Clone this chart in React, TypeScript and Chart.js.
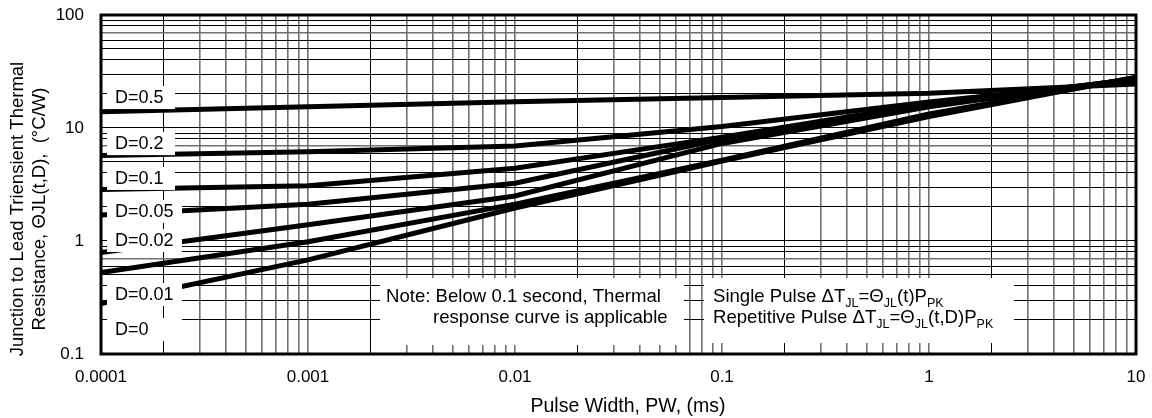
import React, { useEffect, useRef } from 'react';
import { Chart, registerables } from 'chart.js';

Chart.register(...registerables);

// ---- data ----
const pulseWidths = [0.0001, 0.001, 0.01, 0.1, 1, 10];
const dutyLabels = ['D=0.5', 'D=0.2', 'D=0.1', 'D=0.05', 'D=0.02', 'D=0.01', 'D=0'];
const d05 = [13.9, 15.4, 17.1, 18.6, 20.3, 24.5];
const d02 = [5.7, 6.17, 6.93, 10.3, 17.0, 26.5];
const d01 = [2.86, 3.08, 4.4, 8.3, 16.4, 27.0];
const d005 = [1.7, 2.11, 3.24, 8.0, 16.0, 27.2];
const d002 = [0.79, 1.39, 2.5, 7.3, 15.4, 27.4];
const d001 = [0.525, 0.986, 2.12, 5.2, 13.3, 27.8];
const d0 = [0.28, 0.68, 1.96, 5.1, 12.6, 28.2];
const series = [d05, d02, d01, d005, d002, d001, d0];
// label anchor values (thermal resistance at which each D label sits)
const labelAnchors = [18.4, 7.2, 3.54, 1.81, 1.0, 0.333, 0.163];

const xTickLabels = ['0.0001', '0.001', '0.01', '0.1', '1', '10'];
const yTickLabels = ['0.1', '1', '10', '100'];
const xTitle = 'Pulse Width, PW, (ms)';
const yTitleLines = ['Junction to Lead Triensient Thermal', 'Resistance, \u0398JL(t,D),  (\u00B0C/W)'];
const noteLines = ['Note: Below 0.1 second, Thermal', 'response curve is applicable'];
const formula1 = [
  { t: 'Single Pulse \u0394T' }, { t: 'JL', sub: true }, { t: '=\u0398' }, { t: 'JL', sub: true },
  { t: '(t)P' }, { t: 'PK', sub: true },
];
const formula2 = [
  { t: 'Repetitive Pulse \u0394T' }, { t: 'JL', sub: true }, { t: '=\u0398' }, { t: 'JL', sub: true },
  { t: '(t,D)P' }, { t: 'PK', sub: true },
];

const FONT = '"Liberation Sans", Arial, sans-serif';

function logTicks(minExp: number, maxExp: number) {
  const out: { value: number }[] = [];
  for (let e = minExp; e < maxExp; e++) {
    for (let s = 1; s <= 9; s++) out.push({ value: Number((s * Math.pow(10, e)).toPrecision(3)) });
  }
  out.push({ value: Math.pow(10, maxExp) });
  return out;
}
function sig(v: number) {
  return Math.round(v / Math.pow(10, Math.floor(Math.log10(v) + 1e-9)));
}
function isDecade(v: number) {
  const l = Math.log10(v);
  return Math.abs(l - Math.round(l)) < 1e-6;
}
function zeroPad(s: any) {
  s.paddingTop = 0;
  s.paddingBottom = 0;
  s.paddingLeft = 0;
  s.paddingRight = 0;
}

function drawRich(ctx: CanvasRenderingContext2D, parts: { t: string; sub?: boolean }[], x: number, y: number) {
  let cx = x;
  for (const p of parts) {
    ctx.font = p.sub ? `12.5px ${FONT}` : `18.6px ${FONT}`;
    ctx.fillText(p.t, cx, p.sub ? y + 5 : y);
    cx += ctx.measureText(p.t).width;
  }
}

const overlay = {
  id: 'overlay',
  afterDatasetsDraw(chart: any) {
    const { ctx, chartArea: a, scales } = chart;
    ctx.save();
    ctx.textBaseline = 'middle';
    ctx.textAlign = 'left';
    // D labels
    dutyLabels.forEach((lab, i) => {
      const y = scales.y.getPixelForValue(labelAnchors[i]);
      const right = i < 3 ? a.left + 74 : a.left + 81;
      ctx.fillStyle = '#fff';
      ctx.fillRect(a.left + 6, y - 12, right - (a.left + 6), 23);
      ctx.fillStyle = '#000';
      ctx.font = `18px ${FONT}`;
      ctx.fillText(lab, a.left + 14, y);
    });
    // note boxes
    ctx.fillStyle = '#fff';
    ctx.fillRect(a.left + 279, a.bottom - 76, 304, 67);
    ctx.fillRect(a.left + 603, a.bottom - 76, 310, 65);
    ctx.fillStyle = '#000';
    ctx.font = `18.6px ${FONT}`;
    ctx.fillText(noteLines[0], a.left + 285, a.bottom - 57);
    ctx.fillText(noteLines[1], a.left + 332, a.bottom - 36);
    ctx.textBaseline = 'alphabetic';
    drawRich(ctx, formula1, a.left + 612, a.bottom - 52);
    drawRich(ctx, formula2, a.left + 612, a.bottom - 31);
    // frame
    ctx.strokeStyle = '#000';
    ctx.lineWidth = 3;
    ctx.strokeRect(a.left, a.top, a.right - a.left, a.bottom - a.top);
    // titles
    ctx.font = `19.5px ${FONT}`;
    ctx.textAlign = 'center';
    ctx.textBaseline = 'middle';
    ctx.fillText(xTitle, 628, 407);
    ctx.font = `18.5px ${FONT}`;
    ctx.textBaseline = 'alphabetic';
    yTitleLines.forEach((line, i) => {
      ctx.save();
      ctx.translate(23 + i * 22, 209);
      ctx.rotate(-Math.PI / 2);
      ctx.fillText(line, 0, 0);
      ctx.restore();
    });
    ctx.restore();
  },
};

export default function App() {
  const ref = useRef<HTMLCanvasElement>(null);
  useEffect(() => {
    const canvas = ref.current!;
    const chart = new Chart(canvas, {
      type: 'line',
      data: {
        datasets: series.map((vals, i) => ({
          label: dutyLabels[i],
          data: pulseWidths.map((x, j) => ({ x, y: vals[j] })),
          borderColor: '#000',
          backgroundColor: '#000',
          borderWidth: 5,
          pointRadius: 0,
          tension: 0,
          fill: false,
        })),
      },
      options: {
        animation: false,
        responsive: false,
        layout: { padding: { top: 15, right: 16, left: 0, bottom: 0 } },
        plugins: { legend: { display: false }, tooltip: { enabled: false } },
        scales: {
          x: {
            type: 'logarithmic',
            min: 0.0001,
            max: 10,
            afterBuildTicks: (s: any) => { s.ticks = logTicks(-4, 1); },
            afterFit: (s: any) => { s.height = 64; zeroPad(s); },
            border: { display: false },
            grid: {
              drawTicks: false,
              color: (c: any) => (c.tick && sig(c.tick.value) === 2 ? '#000' : '#707070'),
              lineWidth: (c: any) => (c.tick && sig(c.tick.value) === 2 ? 1 : 1.6),
            },
            ticks: {
              autoSkip: false,
              maxRotation: 0,
              padding: 13,
              color: '#000',
              font: { family: FONT, size: 17 },
              callback: (v: any) => {
                const n = Number(v);
                if (!isDecade(n)) return '';
                return xTickLabels[Math.round(Math.log10(n)) + 4];
              },
            },
          },
          y: {
            type: 'logarithmic',
            min: 0.1,
            max: 100,
            afterBuildTicks: (s: any) => { s.ticks = logTicks(-1, 2); },
            afterFit: (s: any) => { s.width = 101; zeroPad(s); },
            border: { display: false },
            grid: {
              drawTicks: false,
              color: (c: any) => (c.tick && sig(c.tick.value) === 7 ? '#707070' : '#000'),
              lineWidth: (c: any) => (c.tick && sig(c.tick.value) === 7 ? 1.6 : 1.1),
            },
            ticks: {
              autoSkip: false,
              padding: 17,
              color: '#000',
              font: { family: FONT, size: 17 },
              callback: (v: any) => {
                const n = Number(v);
                if (!isDecade(n)) return '';
                return yTickLabels[Math.round(Math.log10(n)) + 1];
              },
            },
          },
        },
      },
      plugins: [overlay],
    } as any);
    return () => chart.destroy();
  }, []);
  return (
    <div style={{ position: 'absolute', left: 0, top: 0, width: 1152, height: 418, background: '#fff' }}>
      <canvas ref={ref} width={1152} height={418} style={{ display: 'block' }} />
    </div>
  );
}
